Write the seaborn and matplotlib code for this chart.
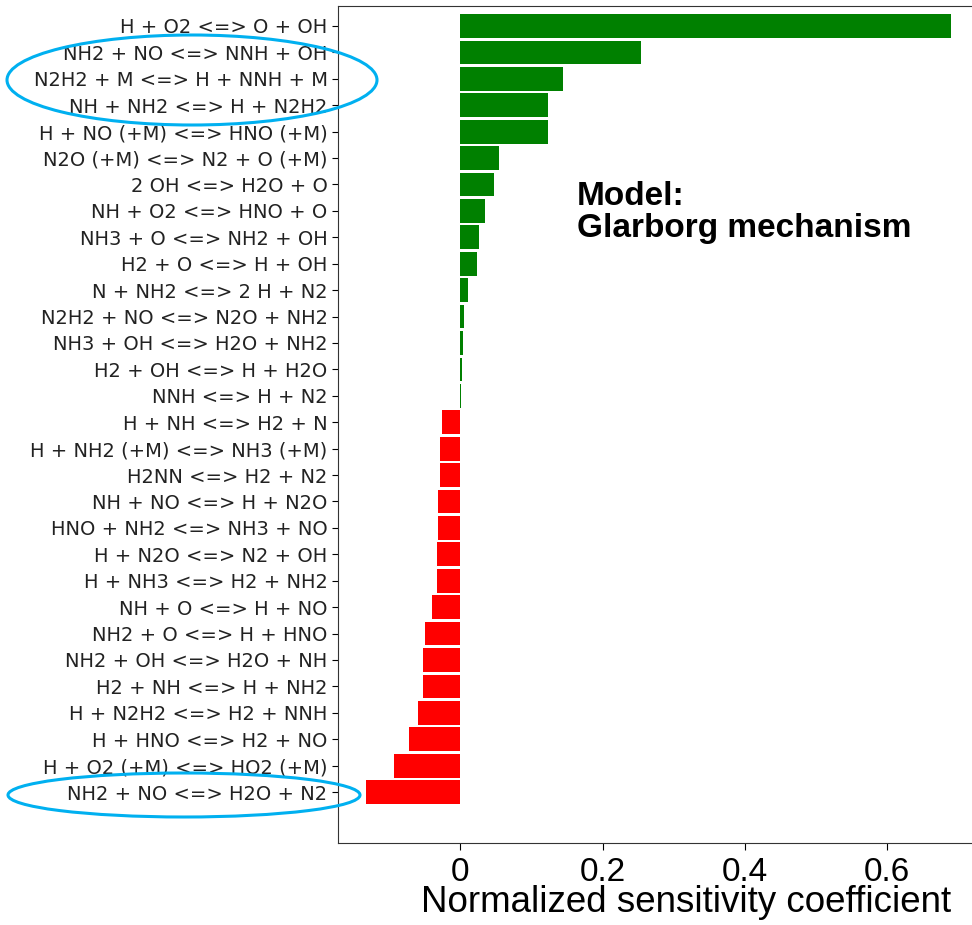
import matplotlib
matplotlib.use("Agg")
import matplotlib.pyplot as plt
from matplotlib.patches import Ellipse
import seaborn as sns
import pandas as pd

reactions = [
    "H + O2 <=> O + OH",
    "NH2 + NO <=> NNH + OH",
    "N2H2 + M <=> H + NNH + M",
    "NH + NH2 <=> H + N2H2",
    "H + NO (+M) <=> HNO (+M)",
    "N2O (+M) <=> N2 + O (+M)",
    "2 OH <=> H2O + O",
    "NH + O2 <=> HNO + O",
    "NH3 + O <=> NH2 + OH",
    "H2 + O <=> H + OH",
    "N + NH2 <=> 2 H + N2",
    "N2H2 + NO <=> N2O + NH2",
    "NH3 + OH <=> H2O + NH2",
    "H2 + OH <=> H + H2O",
    "NNH <=> H + N2",
    "H + NH <=> H2 + N",
    "H + NH2 (+M) <=> NH3 (+M)",
    "H2NN <=> H2 + N2",
    "NH + NO <=> H + N2O",
    "HNO + NH2 <=> NH3 + NO",
    "H + N2O <=> N2 + OH",
    "H + NH3 <=> H2 + NH2",
    "NH + O <=> H + NO",
    "NH2 + O <=> H + HNO",
    "NH2 + OH <=> H2O + NH",
    "H2 + NH <=> H + NH2",
    "H + N2H2 <=> H2 + NNH",
    "H + HNO <=> H2 + NO",
    "H + O2 (+M) <=> HO2 (+M)",
    "NH2 + NO <=> H2O + N2",
]

sensitivity = [
    0.690, 0.254, 0.145, 0.124, 0.123, 0.055, 0.047, 0.035, 0.027, 0.023,
    0.011, 0.005, 0.004, 0.002, 0.0015,
    -0.026, -0.029, -0.029, -0.031, -0.031, -0.033, -0.033, -0.040,
    -0.049, -0.052, -0.052, -0.060, -0.072, -0.093, -0.132,
]

xticks = [0, 0.2, 0.4, 0.6]
xticklabels = ["0", "0.2", "0.4", "0.6"]

df = pd.DataFrame({"reaction": reactions, "value": sensitivity})
df["sign"] = ["pos" if v >= 0 else "neg" for v in df["value"]]

W, H = 972, 925
fig = plt.figure(figsize=(W / 100, H / 100), dpi=100)
ax = fig.add_axes([0.3477, 0.0886, 0.66, 0.905])

sns.barplot(data=df, x="value", y="reaction", hue="sign",
            palette={"pos": "#008000", "neg": "#ff0000"}, saturation=1,
            orient="h", dodge=False, legend=False, width=0.9,
            linewidth=0, ax=ax)

ax.set_ylim(30.93, -0.76)
ax.set_xlim(-0.172, 0.73)
ax.set_xticks(xticks)
ax.set_xticklabels(xticklabels, fontsize=24, family="Liberation Sans")
ax.tick_params(axis="y", labelsize=14, length=4, labelcolor="#222222")
ax.tick_params(axis="x", length=5, pad=5)
ax.set_ylabel("")
ax.set_xlabel("Normalized sensitivity coefficient", fontsize=26.5,
              family="Liberation Sans")
ax.xaxis.set_label_coords(0.5425, -0.0825)
ax.xaxis.label.set_va("baseline")
for s in ax.spines.values():
    s.set_color("#333333")

# model annotation
fig.text(577 / W, 1 - 205 / H, "Model:", fontsize=24, fontweight="bold",
         family="Liberation Sans", va="baseline", ha="left")
fig.text(577 / W, 1 - 237 / H, "Glarborg mechanism", fontsize=24,
         fontweight="bold", family="Liberation Sans", va="baseline",
         ha="left")

# highlight rings around key reactions
for (cx, cy, w, h) in [(192, 80, 370, 90), (184, 795, 352, 44)]:
    e = Ellipse((cx / W, 1 - cy / H), w / W, h / H,
                transform=fig.transFigure, fill=False,
                edgecolor="#00b0f0", linewidth=2.2, clip_on=False)
    fig.add_artist(e)

fig.savefig("out.png", dpi=100)
